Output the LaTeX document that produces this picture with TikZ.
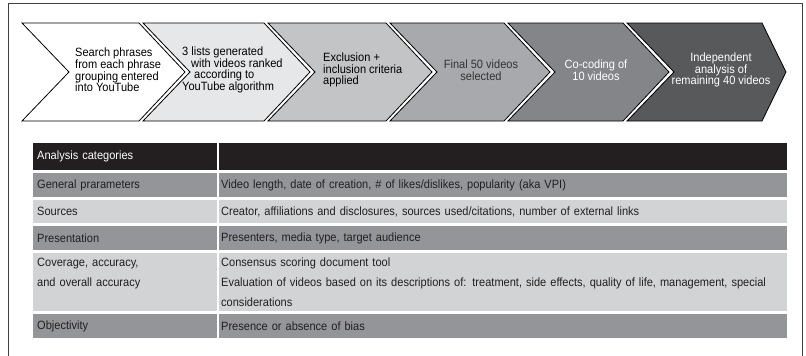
\documentclass[tikz,border=0pt]{standalone}
\usepackage{fontspec}
\setmainfont{Liberation Sans}[FakeStretch=0.92]
\definecolor{stepB}{HTML}{E6E7E8}
\definecolor{stepC}{HTML}{C2C4C6}
\definecolor{stepD}{HTML}{A7A9AC}
\definecolor{stepE}{HTML}{838588}
\definecolor{stepF}{HTML}{58595B}
\definecolor{tabhead}{HTML}{231F20}
\definecolor{tabdark}{HTML}{939598}
\definecolor{tablight}{HTML}{D1D3D4}
\def\chevron[#1](#2,#3,#4){
	\draw[#1] (#2,23) -- (#3,23) -- (#3+#4,72) -- (#3,121) -- (#2,121) -- (#2+47,72) -- cycle; }
\tikzset{
	chevtext/.style={inner sep=0pt,font=\fontsize{12}{11.6}\selectfont},
	catcell/.style={anchor=north west,inner ysep=0pt,inner xsep=4pt,text width=175.5pt,
		align=left,font=\fontsize{12}{20}\selectfont,text=tabhead},
	desccell/.style={anchor=north west,inner ysep=0pt,inner xsep=2pt,text width=564pt,
		align=left,font=\fontsize{12}{20}\selectfont,text=tabhead}
}

\begin{document}
\begin{tikzpicture}[x=1pt,y=-1pt]
	\useasboundingbox (0,0) rectangle (806,356);
	\draw[black!75,line width=1pt] (8,360) -- (8,3) -- (802,3) -- (802,360);
	\chevron[fill=white,draw=black,line width=0.8pt](22,139,46)
	\chevron[fill=stepB,draw=black,line width=0.8pt](143,264,46)
	\chevron[fill=stepC,draw=black,line width=0.8pt](268,386,46)
	\chevron[fill=stepD,draw=black,line width=0.8pt](390,504,46)
	\chevron[fill=stepE,draw=black,line width=0.8pt](508,623,46)
	\chevron[fill=stepF,draw=black,line width=0.8pt](627,762,24)
	\node[chevtext,anchor=west,align=left] (search) at (75,70)
	{Search phrases\\from each phrase\\grouping entered\\into YouTube};
	\node[chevtext,anchor=west,align=left] (lists) at (182,70)
	{3 lists generated\\\hspace*{9pt}with videos ranked\\\hspace*{12pt}according to\\YouTube algorithm};
	\node[chevtext,anchor=west,align=left] (criteria) at (323,70)
	{Exclusion +\\inclusion criteria\\applied};
	\node[chevtext,align=center,text=black!80] (final) at (481,70) {Final 50 videos\\selected};
	\node[chevtext,align=center,text=white] (cocode) at (596,70) {Co-coding of\\10 videos};
	\node[chevtext,align=center,text=white] (indep) at (721,70)
	{Independent\\analysis of\\remaining 40 videos};

	\node[catcell,fill=tabhead,text=white,minimum height=27pt,minimum width=183.5pt] (hcat) at (33,143) {Analysis categories};
	\node[desccell,fill=tabhead,minimum height=27pt,minimum width=568pt] (hdesc) at (218.5,143) {};
	\node[catcell,fill=tabdark,minimum height=24pt] (cgen) at (33,173) {General prarameters};
	\node[desccell,fill=tabdark,minimum height=24pt] (dgen) at (219,173)
	{Video length, date of creation, \# of likes/dislikes, popularity (aka VPI)};
	\node[catcell,fill=tablight,minimum height=23pt] (csrc) at (33,200) {Sources};
	\node[desccell,fill=tablight,minimum height=23pt] (dsrc) at (219,200)
	{Creator, affiliations and disclosures, sources used/citations, number of external links};
	\node[catcell,fill=tabdark,minimum height=24pt] (cpres) at (33,226) {Presentation};
	\node[desccell,fill=tabdark,minimum height=24pt] (dpres) at (219,226)
	{Presenters, media type, target audience};
	\node[catcell,fill=tablight,minimum height=58pt] (ccov) at (33,253)
	{Coverage, accuracy,\\and overall accuracy\\~};
	\node[desccell,fill=tablight,minimum height=58pt] (dcov) at (219,253)
	{Consensus scoring document tool\\Evaluation of videos based on its descriptions of: treatment, side effects, quality of life, management, special\\considerations};
	\node[catcell,fill=tabdark,minimum height=24pt] (cobj) at (33,314) {Objectivity};
	\node[desccell,fill=tabdark,minimum height=24pt] (dobj) at (219,314)
	{Presence or absence of bias};
\end{tikzpicture}
\end{document}
